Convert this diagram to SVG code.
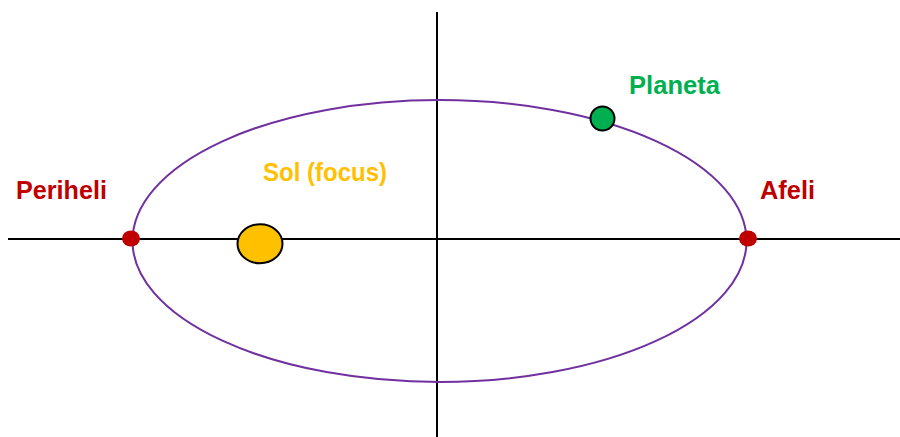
<svg xmlns="http://www.w3.org/2000/svg" width="900" height="437" viewBox="0 0 900 437">
<style>
.axis{stroke:#000;stroke-width:2;fill:none}
.orbit{stroke:#7030A0;stroke-width:2;fill:none}
.lbl{font-family:"Liberation Sans",Arial,sans-serif;font-weight:bold;font-size:26px}
.red{fill:#C00000}
</style>
<rect width="900" height="437" fill="#fff"/>
<g id="connectors">
<line class="axis" x1="8" y1="239" x2="900" y2="239"/>
<line class="axis" x1="437" y1="12" x2="437" y2="437"/>
</g>
<g id="orbit"><ellipse class="orbit" cx="439.5" cy="241" rx="307" ry="141"/></g>
<g id="periheli">
<ellipse class="red" cx="131" cy="238.5" rx="9" ry="8"/>
<text class="lbl red" x="16" y="199" textLength="91" lengthAdjust="spacingAndGlyphs">Periheli</text>
</g>
<g id="afeli">
<ellipse class="red" cx="748" cy="238.5" rx="9" ry="8"/>
<text class="lbl red" x="760" y="199" textLength="55" lengthAdjust="spacingAndGlyphs">Afeli</text>
</g>
<g id="sol">
<ellipse cx="260" cy="243.8" rx="22.5" ry="19.5" fill="#FFC000" stroke="#000" stroke-width="2"/>
<text class="lbl" x="263" y="181" fill="#FFC000" textLength="124" lengthAdjust="spacingAndGlyphs">Sol (focus)</text>
</g>
<g id="planeta">
<circle cx="602.5" cy="118.5" r="12" fill="#00B050" stroke="#000" stroke-width="2"/>
<text class="lbl" x="629" y="94" fill="#00B050" textLength="91" lengthAdjust="spacingAndGlyphs">Planeta</text>
</g>
</svg>
